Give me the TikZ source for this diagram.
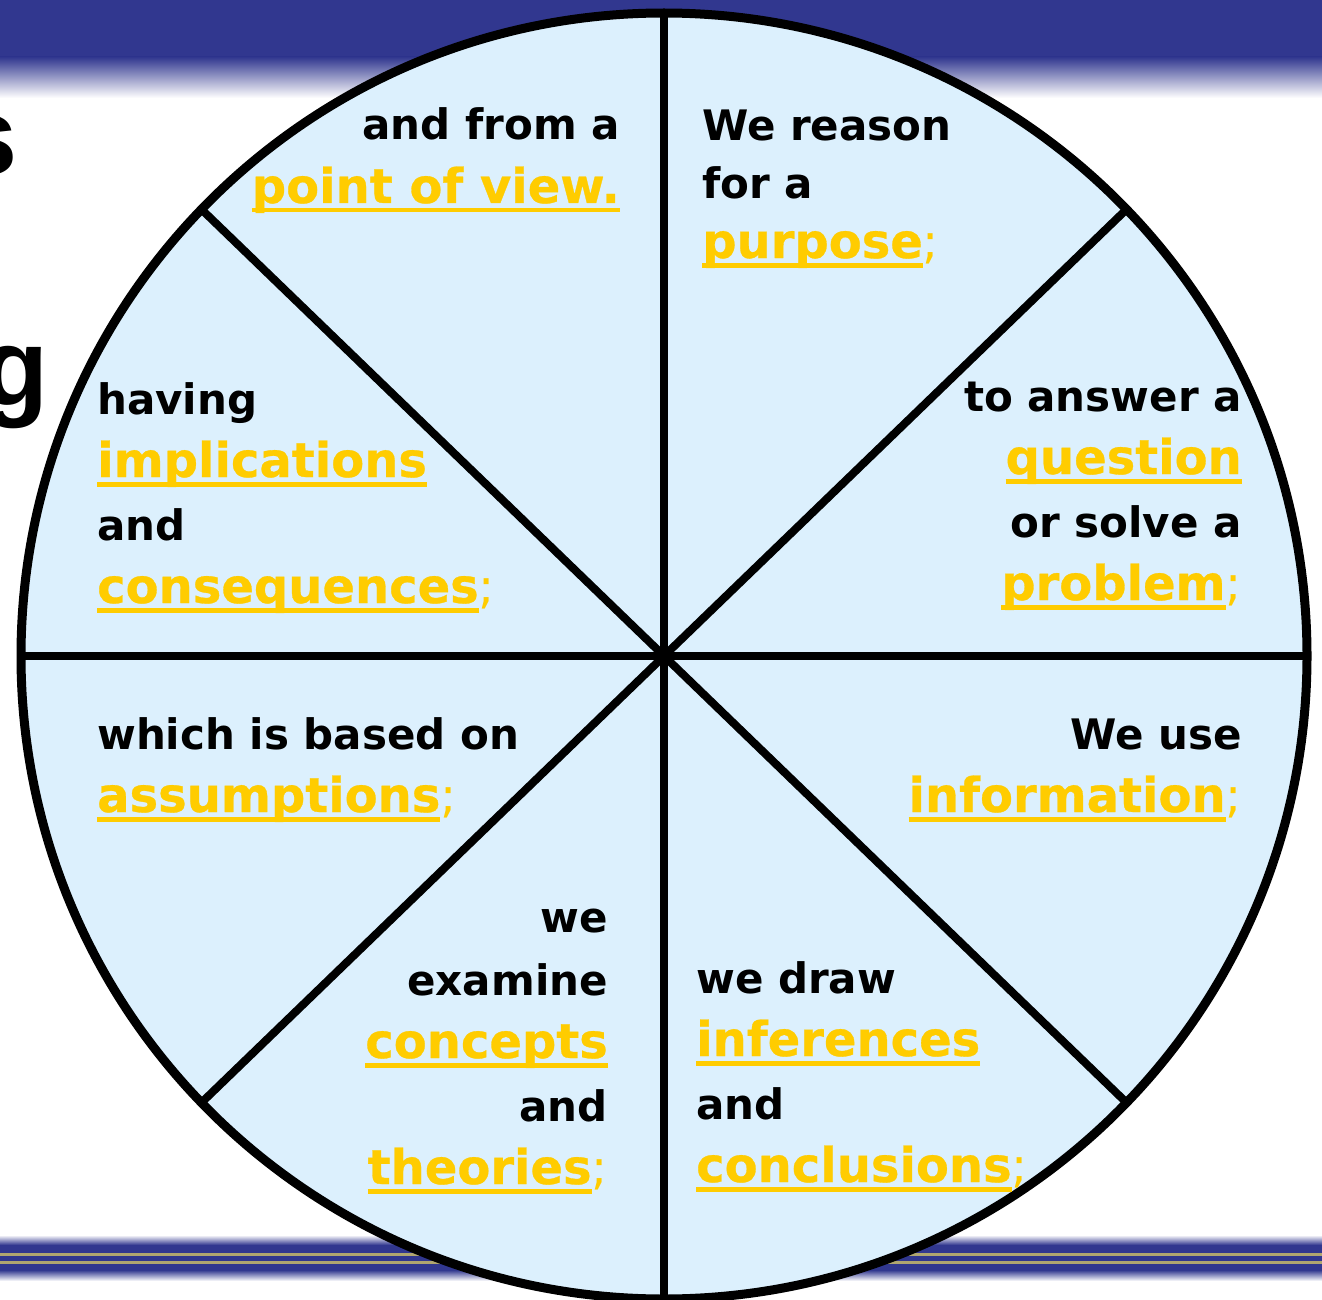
\documentclass[tikz,border=0pt]{standalone}
\usepackage{fontspec}
\setmainfont{DejaVu Sans}
\newfontfamily\titlefont{Liberation Sans}
\newfontfamily\keyfont[FakeBold=0.6]{DejaVu Sans}
\definecolor{bannerblue}{RGB}{49,55,143}
\definecolor{wheelfill}{RGB}{220,240,253}
\definecolor{keygold}{RGB}{255,204,0}
\definecolor{stripegold}{RGB}{176,166,112}
\newcommand{\ulword}[1]{\setbox0\hbox{#1}\rlap{\rule[-9.5pt]{\wd0}{4.5pt}}\box0}
\newcommand{\kw}[2][]{{\fontsize{48}{63}\selectfont\color{keygold}{\keyfont\ulword{#2}}\mdseries#1}}
\tikzstyle{wheeltext} = [inner sep=0pt, font=\fontsize{42}{63}\selectfont\bfseries]
\tikzstyle{lefttext} = [wheeltext, anchor=base west, align=left]
\tikzstyle{righttext} = [wheeltext, anchor=base east, align=right]
\tikzstyle{spoke} = [draw, line width=8pt]
\tikzstyle{rim} = [draw, line width=9pt]
\tikzstyle{titleletter} = [inner sep=0pt, anchor=base east, font=\titlefont\bfseries\fontsize{110}{110}\selectfont]
\begin{document}
\begin{tikzpicture}[x=1pt, y=-1pt]
	\useasboundingbox (0,0) rectangle (1322,1300);
	% banner and stripes
	\fill [bannerblue] (0,0) rectangle (1322,57);
	\shade [top color=bannerblue, bottom color=white] (0,57) rectangle (1322,98);
	\shade [top color=white, bottom color=bannerblue] (0,1235) rectangle (1322,1245);
	\fill [bannerblue] (0,1245) rectangle (1322,1270);
	\shade [top color=bannerblue, bottom color=white] (0,1270) rectangle (1322,1281);
	\fill [stripegold] (0,1253) rectangle (1322,1255.5);
	\fill [stripegold] (0,1261) rectangle (1322,1263.5);
	
	\node [titleletter] (s) at (18,175) {s};
	\node [titleletter] (g) at (49,405) {g};
	
	% wheel
	\coordinate (hub) at (664,656);
	\fill [wheelfill] (hub) circle (643);
	\foreach \a in {0,44,90,136,180,224,270,316}
		\path [spoke] (hub) -- +(\a:643);
	\path [rim] (hub) circle (643);
	
	% base anchor sits on the last line
	\node [righttext] (view) at (620,203) {and from a\\\kw{point of view.}};
	\node [lefttext, font=\fontsize{42}{59}\selectfont\bfseries] (purpose) at (702,258) {We reason\\for a\\\kw[;]{purpose}};
	\node [righttext] (question) at (1242,600) {to answer a\\\kw{question}\\or solve a\\\kw[;]{problem}};
	\node [righttext] (information) at (1242,812) {We use\\\kw[;]{information}};
	\node [lefttext] (inferences) at (696,1182) {we draw\\\kw{inferences}\\and\\\kw[;]{conclusions}};
	\node [righttext] (concepts) at (608,1184) {we\\examine\\\kw{concepts}\\and\\\kw[;]{theories}};
	\node [lefttext] (assumptions) at (97,812) {which is based on\\\kw[;]{assumptions}};
	\node [lefttext] (implications) at (97,603) {having\\\kw{implications}\\and\\\kw[;]{consequences}};
\end{tikzpicture}
\end{document}
